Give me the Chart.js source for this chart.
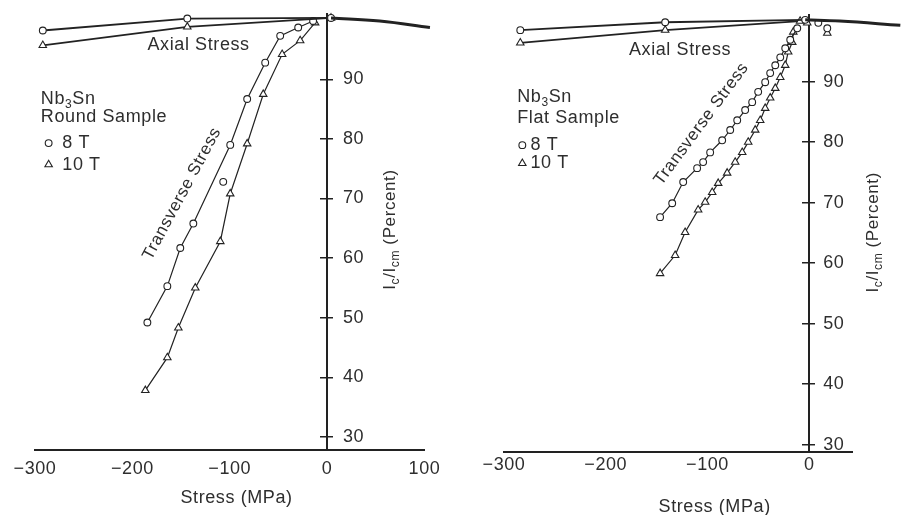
<!DOCTYPE html>
<html><head><meta charset="utf-8">
<script src="https://cdn.jsdelivr.net/npm/chart.js@4.4.1/dist/chart.umd.min.js"></script>
<style>
html,body{margin:0;padding:0;background:#fff;}
#wrap{position:relative;width:901px;height:515px;overflow:hidden;background:#fff}
#c1{position:absolute;left:0;top:0}
#c2{position:absolute;left:450px;top:0}
</style></head><body>
<div id="wrap"><canvas id="c1" width="450" height="515"></canvas><canvas id="c2" width="451" height="515"></canvas></div>
<script>
// ---------------- data ----------------
const xTicksRound = [-300, -200, -100, 0, 100];
const xTicksFlat  = [-300, -200, -100, 0];
const yTicks      = [30, 40, 50, 60, 70, 80, 90];

// Round sample (left panel)
const roundAxial8T_x  = [-292, -143.6, 4];
const roundAxial8T_y  = [98.2, 100.2, 100.3];
const roundAxial10T_x = [-292, -143.6, 4];
const roundAxial10T_y = [95.7, 98.8, 100.3];
const roundTension_x  = [4, 54, 105.6];
const roundTension_y  = [100.3, 99.8, 98.7];
const roundTrans8T_x  = [-184.6, -164.1, -150.8, -137.4, -99.5, -82.1, -63.6, -48.2, -29.7, -14.4];
const roundTrans8T_y  = [49.2, 55.3, 61.7, 65.8, 79.0, 86.7, 92.8, 97.3, 98.7, 99.8];
const roundStray8T_x  = [-106.7];
const roundStray8T_y  = [72.8];
const roundTrans10T_x = [-186.7, -164.1, -152.8, -135.4, -109.7, -99.5, -82.1, -65.6, -46.2, -27.7, -12.3];
const roundTrans10T_y = [37.8, 43.3, 48.3, 55.0, 62.8, 70.8, 79.2, 87.5, 94.2, 96.5, 99.5];

// Flat sample (right panel)
const flatAxial8T_x   = [-284, -141.6, -4];
const flatAxial8T_y   = [98.5, 99.8, 100.2];
const flatAxial10T_x  = [-284, -141.6, -9];
const flatAxial10T_y  = [96.4, 98.5, 100.0];
const flatTension_x   = [-4, 30, 89.5];
const flatTension_y   = [100.2, 100.0, 99.3];
const flatTension8T_x = [8.9, 17.7];
const flatTension8T_y = [99.7, 98.8];
const flatTension10T_x = [-2, 17.7];
const flatTension10T_y = [99.7, 98.0];
const flatTrans8T_x  = [-146.6, -134.7, -123.9, -110.2, -104.3, -97.4, -85.6, -77.7, -70.8, -63.0, -56.1, -50.2, -43.3, -38.4, -33.4, -28.5, -23.6, -18.7, -11.8];
const flatTrans8T_y  = [67.6, 69.9, 73.4, 75.7, 76.7, 78.3, 80.3, 82.0, 83.6, 85.3, 86.6, 88.3, 89.9, 91.4, 92.7, 94.0, 95.5, 96.9, 98.8];
const flatTrans10T_x = [-146.6, -131.8, -122.0, -109.2, -102.3, -95.4, -89.5, -80.7, -72.8, -65.9, -60.0, -53.1, -48.2, -43.3, -38.4, -33.4, -28.5, -23.6, -20.7, -16.7, -15.7];
const flatTrans10T_y = [58.3, 61.3, 65.1, 68.8, 70.1, 71.7, 73.2, 74.9, 76.7, 78.3, 80.0, 82.0, 83.6, 85.6, 87.3, 88.9, 90.7, 92.7, 94.9, 96.5, 98.2];

// ---------------- styling / helpers ----------------
const FONT = "'Liberation Sans', Arial, Helvetica, sans-serif";
const INK = '#222';
const TEXT = '#2e2e2e';
const SPACING = '0.6px';
Chart.defaults.font.family = FONT;
Chart.defaults.font.size = 18;
Chart.defaults.color = TEXT;

const pts = (xs, ys) => xs.map((x, i) => ({x, y: ys[i]}));
const R = {circle: 3.4, triangle: 4.3};

function series(xs, ys, shape, extra) {
  return Object.assign({
    data: pts(xs, ys), showLine: true, borderColor: INK, borderWidth: 1.2, clip: false, tension: 0,
    pointStyle: shape || 'circle', pointRadius: shape ? R[shape] : 0,
    pointBackgroundColor: '#fff', pointBorderColor: INK, pointBorderWidth: 1.1, pointHoverRadius: 0
  }, extra || {});
}

function drawRich(ctx, seg, x, y, size, rotDeg, align) {
  const sub = Math.round(size * 0.68);
  const parts = seg.map(([t, s]) => ({t, s: !!s}));
  let w = 0;
  for (const p of parts) { ctx.font = `${p.s ? sub : size}px ${FONT}`; p.w = ctx.measureText(p.t).width; w += p.w; }
  ctx.save();
  ctx.translate(x, y);
  ctx.rotate(rotDeg * Math.PI / 180);
  let cx = align === 'left' ? 0 : align === 'right' ? -w : -w / 2;
  ctx.textBaseline = 'middle';
  ctx.textAlign = 'left';
  for (const p of parts) {
    ctx.font = `${p.s ? sub : size}px ${FONT}`;
    ctx.fillText(p.t, cx, p.s ? size * 0.32 : 0);
    cx += p.w;
  }
  ctx.restore();
}

const spacingPlugin = {
  id: 'spacing',
  beforeUpdate(c) { c.ctx.letterSpacing = SPACING; },
  beforeDraw(c) { c.ctx.letterSpacing = SPACING; }
};

const notesPlugin = {
  id: 'notes',
  afterDatasetsDraw(chart, _args, opts) {
    const {ctx} = chart;
    const xs = chart.scales.x, ys = chart.scales.y;
    ctx.save();
    ctx.letterSpacing = SPACING;
    for (const n of opts.items) {
      const px = xs.getPixelForValue(n.x) + (n.dx || 0);
      const py = ys.getPixelForValue(n.y) + (n.dy || 0);
      if (n.marker) {
        ctx.fillStyle = '#fff'; ctx.strokeStyle = INK; ctx.lineWidth = 1.1;
        Chart.helpers.drawPoint(ctx, {pointStyle: n.marker, radius: R[n.marker], borderWidth: 1.1}, px, py);
        continue;
      }
      ctx.fillStyle = TEXT;
      drawRich(ctx, n.seg, px, py, n.size || 18, n.rot || 0, n.align || 'center');
    }
    ctx.restore();
  }
};

function makeChart(id, o) {
  const yBase = () => ({
    type: 'linear', min: o.yMin, max: o.yMax,
    afterBuildTicks: s => { s.ticks = yTicks.map(v => ({value: v})); }
  });
  return new Chart(document.getElementById(id), {
    type: 'scatter',
    data: {datasets: o.datasets},
    options: {
      responsive: false, animation: false, devicePixelRatio: 1,
      layout: {padding: o.padding},
      plugins: {legend: {display: false}, tooltip: {enabled: false}, notes: {items: o.notes}},
      scales: {
        x: {
          type: 'linear', min: o.xMin, max: o.xMax,
          afterBuildTicks: s => { s.ticks = o.xTicks.map(v => ({value: v})); },
          afterFit: s => { s.height = o.axisHeight; },
          grid: {display: false},
          border: {display: true, color: INK, width: 2},
          ticks: {padding: o.xTickPad, color: TEXT, font: {size: 18},
                  callback: v => v < 0 ? '\u2212' + Math.abs(v) : String(v)}
        },
        // vertical axis line through zero stress, tick marks to the left
        y: Object.assign(yBase(), {
          position: {x: 0},
          grid: {display: true, drawOnChartArea: false, drawTicks: true, tickLength: 6, color: INK, lineWidth: 1.5},
          border: {display: true, color: INK, width: 2},
          ticks: {display: false}
        }),
        // tick marks to the right of the same line
        yR: Object.assign(yBase(), {
          position: {x: 0},
          grid: {display: true, drawOnChartArea: false, drawTicks: true, tickLength: -6, color: INK, lineWidth: 1.5},
          border: {display: false},
          ticks: {display: false}
        }),
        // tick labels, right-aligned a little to the right of the line
        yL: Object.assign(yBase(), {
          position: {x: o.yLabelX},
          grid: {display: false},
          border: {display: false},
          ticks: {display: true, color: TEXT, font: {size: 18}}
        })
      }
    },
    plugins: [spacingPlugin, notesPlugin]
  });
}

const yTitle = [['I'], ['c', 1], ['/I'], ['cm', 1], [' (Percent)']];

makeChart('c1', {
  xMin: -300, xMax: 100, yMin: 27.8, yMax: 101, xTicks: xTicksRound, yLabelX: 38,
  padding: {left: 35, right: 25.5, top: 11, bottom: 0}, axisHeight: 65, xTickPad: 0,
  datasets: [
    series(roundTension_x, roundTension_y, null, {borderWidth: 3, tension: 0.4}),
    series(roundAxial8T_x, roundAxial8T_y, 'circle', {borderWidth: 1.8}),
    series(roundAxial10T_x, roundAxial10T_y, 'triangle', {borderWidth: 1.8}),
    series(roundTrans8T_x, roundTrans8T_y, 'circle'),
    series(roundStray8T_x, roundStray8T_y, 'circle', {showLine: false}),
    series(roundTrans10T_x, roundTrans10T_y, 'triangle')
  ],
  notes: [
    {seg: [['Axial Stress']], x: -132, y: 95.7},
    {seg: [['Transverse Stress']], x: -149, y: 70.8, rot: -61.7, size: 17},
    {seg: [['Nb'], ['3', 1], ['Sn']], x: -294, y: 86.7, align: 'left'},
    {seg: [['Round Sample']], x: -294, y: 83.7, align: 'left'},
    {marker: 'circle', x: -286, y: 79.3},
    {seg: [['8 T']], x: -272, y: 79.3, align: 'left'},
    {marker: 'triangle', x: -286, y: 75.7},
    {seg: [['10 T']], x: -272, y: 75.7, align: 'left'},
    {seg: yTitle, x: 0, dx: 63, y: 64.8, rot: -90, size: 17},
    {seg: [['Stress (MPa)']], x: -93, y: 27.8, dy: 48}
  ]
});

makeChart('c2', {
  xMin: -300, xMax: 42, yMin: 28.8, yMax: 101, xTicks: xTicksFlat, yLabelX: 34.5,
  padding: {left: 54, right: 49, top: 15, bottom: 0}, axisHeight: 63, xTickPad: -6,
  datasets: [
    series(flatTension_x, flatTension_y, null, {borderWidth: 3, tension: 0.4}),
    series(flatAxial8T_x, flatAxial8T_y, 'circle', {borderWidth: 1.8}),
    series(flatAxial10T_x, flatAxial10T_y, 'triangle', {borderWidth: 1.8}),
    series(flatTension8T_x, flatTension8T_y, 'circle', {showLine: false}),
    series(flatTension10T_x, flatTension10T_y, 'triangle', {showLine: false}),
    series(flatTrans8T_x, flatTrans8T_y, 'circle'),
    series(flatTrans10T_x, flatTrans10T_y, 'triangle')
  ],
  notes: [
    {seg: [['Axial Stress']], x: -127, y: 95.2},
    {seg: [['Transverse Stress']], x: -106, y: 83, rot: -53.6, size: 17},
    {seg: [['Nb'], ['3', 1], ['Sn']], x: -287, y: 87.4, align: 'left'},
    {seg: [['Flat Sample']], x: -287, y: 84.0, align: 'left'},
    {marker: 'circle', x: -282, y: 79.5},
    {seg: [['8 T']], x: -274, y: 79.5, align: 'left'},
    {marker: 'triangle', x: -282, y: 76.5},
    {seg: [['10 T']], x: -274, y: 76.5, align: 'left'},
    {seg: yTitle, x: 0, dx: 64, y: 65.1, rot: -90, size: 17},
    {seg: [['Stress (MPa)']], x: -93, y: 28.8, dy: 55}
  ]
});
</script>
</body></html>
